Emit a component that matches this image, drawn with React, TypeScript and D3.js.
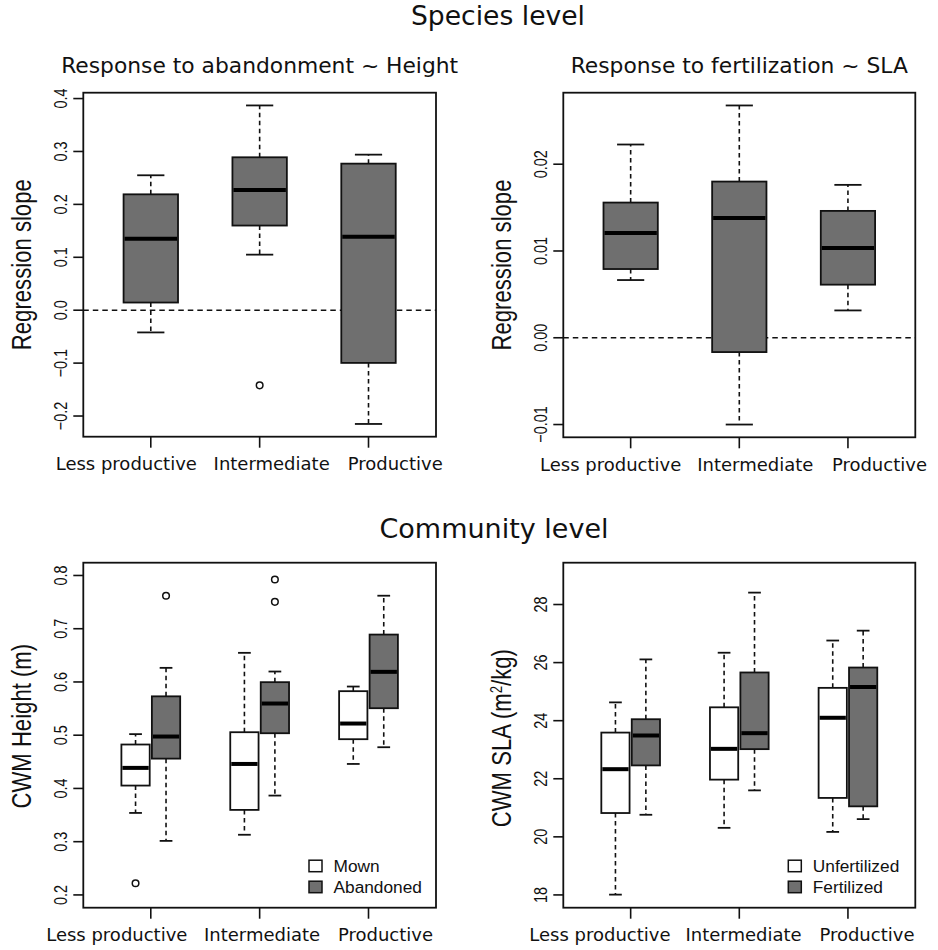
import React from "react";
import * as d3 from "d3";

// ---------- DATA ----------
const categories = ["Less productive", "Intermediate", "Productive"];

// five-number summaries: [lower whisker, Q1, median, Q3, upper whisker]
const abandonHeightStats = [
  [-0.042, 0.0145, 0.135, 0.219, 0.255],
  [0.105, 0.16, 0.227, 0.289, 0.387],
  [-0.215, -0.0996, 0.139, 0.277, 0.294],
];
const abandonHeightOutliers = [[], [-0.142], []];

const fertSlaStats = [
  [0.00665, 0.00792, 0.01208, 0.01558, 0.02227],
  [-0.01, -0.00165, 0.01381, 0.018, 0.02677],
  [0.00315, 0.00612, 0.01035, 0.01462, 0.01762],
];
const fertSlaOutliers = [[], [], []];

const mownHeightStats = [
  [0.354, 0.4054, 0.4386, 0.4825, 0.502],
  [0.313, 0.3597, 0.446, 0.5056, 0.6547],
  [0.446, 0.4925, 0.5219, 0.5827, 0.5914],
];
const mownHeightOutliers = [[0.222], [], []];
const abandonedHeightStats = [
  [0.3015, 0.456, 0.4975, 0.573, 0.6265],
  [0.3866, 0.5037, 0.5595, 0.5996, 0.6196],
  [0.4774, 0.5507, 0.619, 0.689, 0.762],
];
const abandonedHeightOutliers = [[0.762], [0.7925, 0.7505], []];

const unfertSlaStats = [
  [18.01, 20.82, 22.33, 23.59, 24.63],
  [20.31, 21.97, 23.03, 24.46, 26.34],
  [20.17, 21.34, 24.1, 25.13, 26.76],
];
const unfertSlaOutliers = [[], [], []];
const fertilizedSlaStats = [
  [20.76, 22.46, 23.49, 24.05, 26.11],
  [21.6, 23.02, 23.57, 25.66, 28.41],
  [20.61, 21.05, 25.16, 25.83, 27.1],
];
const fertilizedSlaOutliers = [[], [], []];

const heightSlopeTicks = [-0.2, -0.1, 0, 0.1, 0.2, 0.3, 0.4];
const slaSlopeTicks = [-0.01, 0, 0.01, 0.02];
const cwmHeightTicks = [0.2, 0.3, 0.4, 0.5, 0.6, 0.7, 0.8];
const cwmSlaTicks = [18, 20, 22, 24, 26, 28];
const cwmHeightLimits = [0.2, 0.8];
const cwmSlaLimits = [18, 29];

const seriesNamesHeight = ["Mown", "Abandoned"];
const seriesNamesSla = ["Unfertilized", "Fertilized"];

// ---------- STYLE ----------
const GRAY = "#6f6f6f";
const INK = "#111";
const HFONT = "'DejaVu Sans', Verdana, sans-serif";
const RFONT = "'Liberation Sans', Arial, sans-serif";

type Series = { stats: number[][]; outliers: number[][]; fill: string; name?: string };

type PanelProps = {
  left: number; right: number; top: number; bottom: number;
  title?: string;
  yTitle: React.ReactNode;
  yTitleShift?: number;
  ticks: number[];
  tickFmt: (v: number) => string;
  limits?: number[];
  series: Series[];
  boxWidth: number;
  offset: number;
  capFrac: number;
  zeroLine?: boolean;
  legend?: boolean;
  labelShift: number[];
};

function rotText(x: number, y: number, s: number, size: number, content: React.ReactNode, key?: string) {
  return (
    <text key={key} transform={`translate(${x},${y}) rotate(-90) scale(${s},1)`} textAnchor="middle"
      fontFamily={RFONT} fontSize={size} fill={INK}>{content}</text>
  );
}

function Panel(p: PanelProps) {
  let lo: number, hi: number;
  if (p.limits) { lo = p.limits[0]; hi = p.limits[1]; }
  else {
    const all: number[] = [];
    p.series.forEach(s => { s.stats.forEach(a => all.push(...a)); s.outliers.forEach(a => all.push(...a)); });
    lo = d3.min(all)!; hi = d3.max(all)!;
  }
  const ext = (hi - lo) * 0.04;
  const y = d3.scaleLinear().domain([lo - ext, hi + ext]).range([p.bottom, p.top]);
  const n = categories.length;
  const x = d3.scaleLinear().domain([0.5 - 0.04 * n, n + 0.5 + 0.04 * n]).range([p.left, p.right]);
  const unit = x(1) - x(0);
  const bw = p.boxWidth * unit;
  const cw = bw * p.capFrac;
  const ns = p.series.length;

  const marks: React.ReactNode[] = [];
  p.series.forEach((s, si) => {
    const off = ns === 1 ? 0 : (si === 0 ? -p.offset : p.offset);
    s.stats.forEach((st, ci) => {
      const cx = x(ci + 1 + off);
      const [lw, q1, md, q3, uw] = st;
      marks.push(
        <g key={`s${si}c${ci}`}>
          <line x1={cx} x2={cx} y1={y(q3)} y2={y(uw)} stroke={INK} strokeWidth={1.6} strokeDasharray="4.5,3.5" />
          <line x1={cx} x2={cx} y1={y(q1)} y2={y(lw)} stroke={INK} strokeWidth={1.6} strokeDasharray="4.5,3.5" />
          <line x1={cx - cw / 2} x2={cx + cw / 2} y1={y(uw)} y2={y(uw)} stroke={INK} strokeWidth={1.8} />
          <line x1={cx - cw / 2} x2={cx + cw / 2} y1={y(lw)} y2={y(lw)} stroke={INK} strokeWidth={1.8} />
          <rect x={cx - bw / 2} y={y(q3)} width={bw} height={y(q1) - y(q3)} fill={s.fill} stroke={INK} strokeWidth={1.8} />
          <line x1={cx - bw / 2 + 1} x2={cx + bw / 2 - 1} y1={y(md)} y2={y(md)} stroke="#000" strokeWidth={4} />
          {s.outliers[ci].map((o, oi) => (
            <circle key={oi} cx={cx} cy={y(o)} r={3.3} fill="none" stroke={INK} strokeWidth={1.5} />
          ))}
        </g>
      );
    });
  });

  const midY = (p.top + p.bottom) / 2;
  return (
    <g>
      {p.zeroLine && (
        <line x1={p.left} x2={p.right} y1={y(0)} y2={y(0)} stroke={INK} strokeWidth={1.5} strokeDasharray="5.5,4" />
      )}
      {marks}
      <rect x={p.left} y={p.top} width={p.right - p.left} height={p.bottom - p.top} fill="none" stroke={INK} strokeWidth={1.8} />
      {/* y axis */}
      {p.ticks.map((t, i) => (
        <g key={`yt${i}`}>
          <line x1={p.left} x2={p.left - 10} y1={y(t)} y2={y(t)} stroke={INK} strokeWidth={1.6} />
          {rotText(p.left - 16.6, y(t), 0.78, 18.5, p.tickFmt(t))}
        </g>
      ))}
      {/* x axis */}
      {categories.map((c, i) => (
        <g key={`xt${i}`}>
          <line x1={x(i + 1)} x2={x(i + 1)} y1={p.bottom} y2={p.bottom + 11} stroke={INK} strokeWidth={1.6} />
          <text x={x(i + 1) + p.labelShift[i]} y={p.bottom + 33.5} textAnchor="middle" fontFamily={HFONT} fontSize={18} fill={INK}>{c}</text>
        </g>
      ))}
      {p.title && (
        <text x={(p.left + p.right) / 2} y={73} textAnchor="middle" fontFamily={HFONT} fontSize={21.8} fill={INK}>{p.title}</text>
      )}
      {rotText(p.left - 52.5, midY + (p.yTitleShift || 0), 0.82, 27, p.yTitle)}
      {p.legend && p.series.map((s, si) => {
        const lx = p.right - 127;
        const ly = p.bottom - 47.5 + si * 21;
        return (
          <g key={`lg${si}`}>
            <rect x={lx} y={ly} width={13} height={11.5} fill={s.fill} stroke={INK} strokeWidth={1.5} />
            <text x={lx + 24.5} y={ly + 11.5} fontFamily={RFONT} fontSize={17.3} fill={INK}>{s.name}</text>
          </g>
        );
      })}
    </g>
  );
}

export default function App() {
  const f1 = d3.format(".1f");
  const f2 = d3.format(".2f");
  const f0 = d3.format("d");
  return (
    <svg width={938} height={950} style={{ position: "absolute", left: 0, top: 0, background: "#fff" }}>
      <rect x={0} y={0} width={938} height={950} fill="#fff" />
      <text x={498} y={25} textAnchor="middle" fontFamily={HFONT} fontSize={26.6} fill={INK}>Species level</text>
      <text x={494} y={538} textAnchor="middle" fontFamily={HFONT} fontSize={27} fill={INK}>Community level</text>
      <Panel left={83.3} right={436} top={92.7} bottom={436.7}
        title="Response to abandonment ~ Height" yTitle="Regression slope"
        ticks={heightSlopeTicks} tickFmt={f1}
        series={[{ stats: abandonHeightStats, outliers: abandonHeightOutliers, fill: GRAY }]}
        boxWidth={0.5} offset={0} capFrac={0.5} zeroLine labelShift={[-24.5, 12, 26.7]} />
      <Panel left={563.3} right={915.3} top={92.7} bottom={437.3}
        title="Response to fertilization ~ SLA" yTitle="Regression slope"
        ticks={slaSlopeTicks} tickFmt={f2}
        series={[{ stats: fertSlaStats, outliers: fertSlaOutliers, fill: GRAY }]}
        boxWidth={0.5} offset={0} capFrac={0.5} zeroLine labelShift={[-20, 16, 31.5]} />
      <Panel left={83.3} right={436} top={562.7} bottom={907.7}
        yTitle="CWM Height (m)" yTitleShift={-9}
        ticks={cwmHeightTicks} tickFmt={f1} limits={cwmHeightLimits}
        series={[
          { stats: mownHeightStats, outliers: mownHeightOutliers, fill: "#fff", name: seriesNamesHeight[0] },
          { stats: abandonedHeightStats, outliers: abandonedHeightOutliers, fill: GRAY, name: seriesNamesHeight[1] },
        ]}
        boxWidth={0.26} offset={0.14} capFrac={0.45} legend labelShift={[-34, 2.4, 17]} />
      <Panel left={563.3} right={915.3} top={562.7} bottom={907.7}
        yTitle={<>CWM SLA (m<tspan fontSize={16} dy={-9}>2</tspan><tspan dy={9}>/kg)</tspan></>} yTitleShift={3}
        ticks={cwmSlaTicks} tickFmt={f0} limits={cwmSlaLimits}
        series={[
          { stats: unfertSlaStats, outliers: unfertSlaOutliers, fill: "#fff", name: seriesNamesSla[0] },
          { stats: fertilizedSlaStats, outliers: fertilizedSlaOutliers, fill: GRAY, name: seriesNamesSla[1] },
        ]}
        boxWidth={0.26} offset={0.14} capFrac={0.45} legend labelShift={[-30.7, 4.3, 19]} />
    </svg>
  );
}
